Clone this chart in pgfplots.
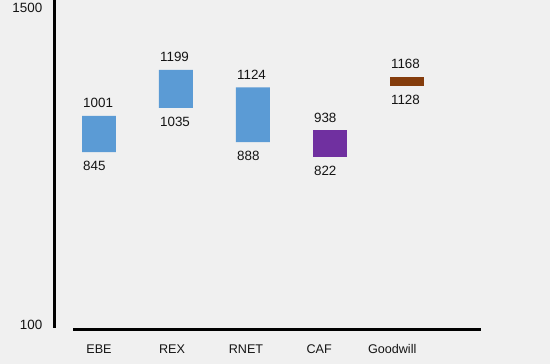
\documentclass[border=0pt]{standalone}
\usepackage{pgfplots}
\pgfplotsset{compat=1.18}
\usepackage{fontspec}
\setmainfont{Liberation Sans}
\definecolor{bg}{HTML}{F0F0F0}
\definecolor{barblue}{HTML}{5B9BD5}
\definecolor{barpurple}{HTML}{7030A0}
\definecolor{barbrown}{HTML}{843C0C}
\definecolor{txt}{HTML}{141414}
\tikzset{numfont/.style={font=\fontsize{13.4bp}{15bp}\selectfont, text=txt}}
\pgfplotsset{
  base/.style={scale only axis, width=446bp, height=325bp, at={(54bp,39bp)}, anchor=south west,
    xmin=-0.584, xmax=5.21, ymin=100, ymax=1500, clip=false},
}
\begin{document}
\begin{tikzpicture}
\path[fill=bg, use as bounding box] (0,0) rectangle (550bp,364bp);
\begin{axis}[base, ybar stacked, bar width=0.44,
  axis line style={draw=none}, major tick length=0pt,
  xtick={0,0.95,1.91,2.86,3.81}, xticklabels={EBE,REX,RNET,CAF,Goodwill},
  ytick={100}, extra y ticks={1500},
  extra y tick style={yticklabel style={yshift=-8bp}},
  yticklabel style={anchor=east, inner sep=0pt, xshift=-11.5bp, numfont},
  xticklabel style={anchor=base, inner sep=0pt, yshift=-28bp, font=\fontsize{12.6bp}{14bp}\selectfont, text=txt},
  /pgf/number format/assume math mode=true, /pgf/number format/1000 sep={}]
% invisible base (low values)
\addplot[draw=none, fill=none] coordinates {(0,845) (1,1035) (2,888) (3,822) (4,1128)};
% range heights (high - low)
\addplot[draw=none, fill=barblue] coordinates {(0,156) (1,164) (2,236) (3,0) (4,0)};
\addplot[draw=none, fill=barpurple] coordinates {(0,0) (1,0) (2,0) (3,116) (4,0)};
\addplot[draw=none, fill=barbrown] coordinates {(0,0) (1,0) (2,0) (3,0) (4,40)};
\end{axis}
\begin{axis}[base, hide axis]
\addplot[draw=none, mark=none, nodes near coords, point meta=explicit symbolic,
  nodes near coords style={anchor=south west, inner sep=0pt, xshift=-16bp, yshift=8bp, numfont}]
  coordinates {(0,1001)[1001] (1,1199)[1199] (2,1124)[1124] (3,938)[938] (4,1168)[1168]};
\addplot[draw=none, mark=none, nodes near coords, point meta=explicit symbolic,
  nodes near coords style={anchor=north west, inner sep=0pt, xshift=-16bp, yshift=-9bp, numfont}]
  coordinates {(0,845)[845] (1,1035)[1035] (2,888)[888] (3,822)[822] (4,1128)[1128]};
\end{axis}
\draw[black, line width=3bp] (54bp,36bp) -- (54bp,364bp);
\draw[black, line width=3.5bp] (73bp,34.5bp) -- (481bp,34.5bp);
\end{tikzpicture}
\end{document}
